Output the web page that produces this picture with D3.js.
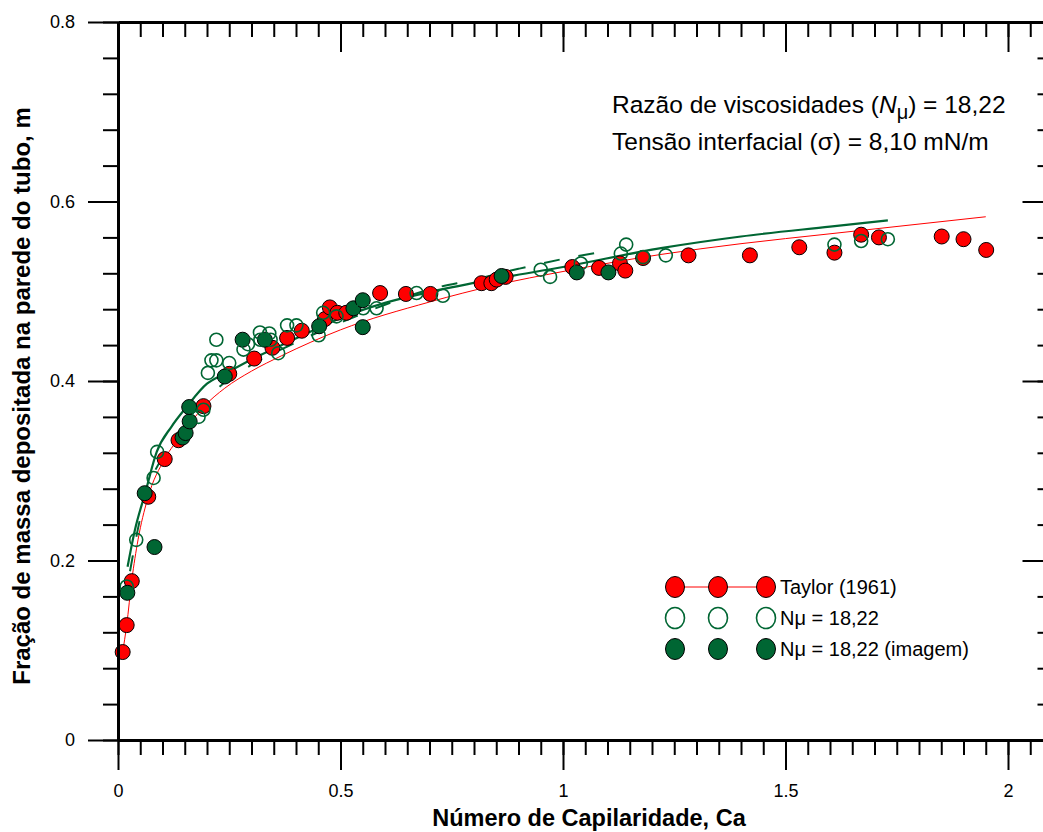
<!DOCTYPE html>
<html>
<head>
<meta charset="utf-8">
<script src="https://cdn.jsdelivr.net/npm/d3@7"></script>
<style>
  body { margin: 0; background: #fff; }
  svg { display: block; font-family: "Liberation Sans", Arial, sans-serif; }
</style>
</head>
<body>
<div id="chart"></div>
<script>
// Taylor (1961) data
const taylorCa = [0.0105, 0.0195, 0.031, 0.068, 0.105, 0.136, 0.192, 0.250, 0.306, 0.347, 0.380, 0.413, 0.465, 0.476, 0.493, 0.513, 0.589, 0.647, 0.702, 0.817, 0.839, 0.851, 0.871, 1.021, 1.081, 1.128, 1.140, 1.180, 1.282, 1.420, 1.531, 1.610, 1.670, 1.710, 1.851, 1.900, 1.951];
const taylorM  = [0.098, 0.128, 0.177, 0.271, 0.313, 0.334, 0.372, 0.408, 0.425, 0.437, 0.448, 0.456, 0.469, 0.482, 0.476, 0.476, 0.498, 0.497, 0.497, 0.509, 0.509, 0.513, 0.516, 0.527, 0.526, 0.531, 0.523, 0.537, 0.540, 0.540, 0.549, 0.543, 0.563, 0.560, 0.561, 0.558, 0.546];

// N_mu = 18,22 (open)
const openCa = [0.0195, 0.041, 0.080, 0.088, 0.181, 0.192, 0.202, 0.210, 0.221, 0.221, 0.250, 0.282, 0.292, 0.319, 0.320, 0.340, 0.343, 0.360, 0.380, 0.401, 0.451, 0.461, 0.491, 0.551, 0.581, 0.671, 0.730, 0.950, 0.971, 1.040, 1.130, 1.142, 1.180, 1.231, 1.610, 1.670, 1.730];
const openM  = [0.171, 0.223, 0.292, 0.321, 0.360, 0.368, 0.409, 0.423, 0.423, 0.446, 0.420, 0.435, 0.441, 0.454, 0.446, 0.453, 0.446, 0.431, 0.462, 0.462, 0.451, 0.476, 0.472, 0.481, 0.481, 0.498, 0.495, 0.524, 0.516, 0.531, 0.542, 0.552, 0.538, 0.540, 0.552, 0.556, 0.558];

// N_mu = 18,22 (imagem)
const imgCa = [0.021, 0.060, 0.082, 0.145, 0.152, 0.161, 0.160, 0.240, 0.280, 0.330, 0.452, 0.529, 0.550, 0.550, 0.862, 1.031, 1.102];
const imgM  = [0.164, 0.275, 0.215, 0.337, 0.342, 0.355, 0.371, 0.405, 0.446, 0.446, 0.461, 0.481, 0.490, 0.460, 0.517, 0.521, 0.521];

// fitted curves
const fitTaylorCa = [0.0105, 0.0195, 0.031, 0.045, 0.066, 0.106, 0.143, 0.192, 0.240, 0.300, 0.367, 0.500, 0.700, 0.850, 1.000, 1.220, 1.400, 1.600, 1.950];
const fitTaylorM  = [0.098, 0.128, 0.178, 0.223, 0.268, 0.314, 0.340, 0.371, 0.392, 0.411, 0.428, 0.457, 0.488, 0.507, 0.522, 0.541, 0.553, 0.564, 0.583];

const fitSolidCa = [0.0215, 0.038, 0.061, 0.087, 0.120, 0.154, 0.200, 0.240, 0.300, 0.364, 0.454, 0.500, 0.600, 0.700, 0.850, 1.000, 1.220, 1.400, 1.600, 1.730];
const fitSolidM  = [0.193, 0.234, 0.275, 0.321, 0.349, 0.371, 0.397, 0.408, 0.424, 0.439, 0.460, 0.470, 0.487, 0.499, 0.514, 0.527, 0.548, 0.561, 0.572, 0.579];

const fitDashCa = [0.027, 0.049, 0.075, 0.120, 0.170, 0.227, 0.290, 0.400, 0.500, 0.600, 0.700, 0.800, 0.900, 1.000, 1.100];
const fitDashM  = [0.188, 0.245, 0.290, 0.328, 0.362, 0.393, 0.415, 0.443, 0.465, 0.485, 0.502, 0.513, 0.525, 0.536, 0.545];

const xTicks = [0, 0.5, 1, 1.5, 2];
const yTicks = [0, 0.2, 0.4, 0.6, 0.8];

const legendLabels = ["Taylor (1961)", "N\u03bc = 18,22", "N\u03bc = 18,22 (imagem)"];

const width = 1043, height = 832;
const red = "#ff0000", green = "#006633";

const svg = d3.select("#chart").append("svg")
  .attr("width", width)
  .attr("height", height);

const x = d3.scaleLinear().domain([0, 2.1]).range([118, 118 + 2.1 * 445]);
const y = d3.scaleLinear().domain([0, 0.8]).range([740, 22]);

const zip = (a, b) => a.map((v, i) => [v, b[i]]);

// curves
const line = d3.line().x(d => x(d[0])).y(d => y(d[1])).curve(d3.curveMonotoneX);

svg.append("path")
  .attr("d", line(zip(fitTaylorCa, fitTaylorM)))
  .attr("fill", "none").attr("stroke", red).attr("stroke-width", 1);

svg.append("path")
  .attr("d", line(zip(fitDashCa, fitDashM)))
  .attr("fill", "none").attr("stroke", green).attr("stroke-width", 2)
  .attr("stroke-dasharray", "16,19");

svg.append("path")
  .attr("d", line(zip(fitSolidCa, fitSolidM)))
  .attr("fill", "none").attr("stroke", green).attr("stroke-width", 2.2);

// points
svg.append("g").selectAll("circle")
  .data(zip(taylorCa, taylorM))
  .join("circle")
  .attr("cx", d => x(d[0])).attr("cy", d => y(d[1]))
  .attr("r", 7.5)
  .attr("fill", red).attr("stroke", "#000").attr("stroke-width", 1);

svg.append("g").selectAll("circle")
  .data(zip(imgCa, imgM))
  .join("circle")
  .attr("cx", d => x(d[0])).attr("cy", d => y(d[1]))
  .attr("r", 7.5)
  .attr("fill", green).attr("stroke", "#000").attr("stroke-width", 1);

svg.append("g").selectAll("circle")
  .data(zip(openCa, openM))
  .join("circle")
  .attr("cx", d => x(d[0])).attr("cy", d => y(d[1]))
  .attr("r", 6.5)
  .attr("fill", "none").attr("stroke", green).attr("stroke-width", 1.6);

// axes
function styleAxis(g, labels) {
  g.select(".domain").attr("stroke", "#000").attr("stroke-width", 3);
  g.selectAll(".tick line").attr("stroke", "#000").attr("stroke-width", 2);
  if (!labels) g.selectAll(".tick text").remove();
}

const xMinor = d3.range(0, 42).map(i => i * 0.05);
const yMinor = d3.range(0, 21).map(i => i * 0.04);

// bottom
svg.append("g").attr("transform", `translate(0,${y(0)})`)
  .call(d3.axisBottom(x).tickValues(xMinor).tickSize(15).tickSizeOuter(0))
  .call(g => styleAxis(g, false));
svg.append("g").attr("transform", `translate(0,${y(0)})`)
  .call(d3.axisBottom(x).tickValues(xTicks).tickSize(30).tickSizeOuter(0).tickPadding(14).tickFormat(d3.format("")))
  .call(g => styleAxis(g, true))
  .selectAll("text")
  .attr("font-family", "'Liberation Sans', Arial, sans-serif")
  .attr("font-size", 18).attr("fill", "#000");

// top
svg.append("g").attr("transform", `translate(0,${y(0.8)})`)
  .call(d3.axisBottom(x).tickValues(xMinor).tickSize(15).tickSizeOuter(0))
  .call(g => styleAxis(g, false));
svg.append("g").attr("transform", `translate(0,${y(0.8)})`)
  .call(d3.axisBottom(x).tickValues(xTicks).tickSize(30).tickSizeOuter(0))
  .call(g => styleAxis(g, false));

// left
svg.append("g").attr("transform", `translate(${x(0)},0)`)
  .call(d3.axisLeft(y).tickValues(yMinor).tickSize(15).tickSizeOuter(0))
  .call(g => styleAxis(g, false));
svg.append("g").attr("transform", `translate(${x(0)},0)`)
  .call(d3.axisLeft(y).tickValues(yTicks).tickSize(30).tickSizeOuter(0).tickPadding(13).tickFormat(d3.format("")))
  .call(g => styleAxis(g, true))
  .selectAll("text")
  .attr("font-size", 18).attr("fill", "#000");

// right
svg.append("g").attr("transform", `translate(${x(2.1)},0)`)
  .call(d3.axisLeft(y).tickValues(yMinor).tickSize(15).tickSizeOuter(0))
  .call(g => styleAxis(g, false));
svg.append("g").attr("transform", `translate(${x(2.1)},0)`)
  .call(d3.axisLeft(y).tickValues(yTicks).tickSize(30).tickSizeOuter(0))
  .call(g => styleAxis(g, false));

// axis titles
svg.append("text")
  .attr("x", 589).attr("y", 826)
  .attr("text-anchor", "middle")
  .attr("font-weight", "bold").attr("font-size", 23.5)
  .text("Número de Capilaridade, Ca");

svg.append("text")
  .attr("transform", "translate(30,396) rotate(-90)")
  .attr("text-anchor", "middle")
  .attr("font-weight", "bold").attr("font-size", 24)
  .text("Fração de massa depositada na parede do tubo, m");

// annotation
const ann = svg.append("text").attr("x", 612).attr("y", 113).attr("font-size", 24.5);
ann.append("tspan").text("Razão de viscosidades (");
ann.append("tspan").attr("font-style", "italic").text("N");
ann.append("tspan").attr("dy", 6).attr("font-size", 20).text("\u03bc");
ann.append("tspan").attr("dy", -6).text(") = 18,22");

svg.append("text").attr("x", 612).attr("y", 150).attr("font-size", 24.5)
  .text("Tensão interfacial (\u03c3) = 8,10 mN/m");

// legend
const legX = [675, 718, 766];
const legY = [587, 618, 649];
const leg = svg.append("g");

leg.append("line")
  .attr("x1", legX[0]).attr("x2", legX[2])
  .attr("y1", legY[0]).attr("y2", legY[0])
  .attr("stroke", red).attr("stroke-width", 1);

const legStyles = [
  { fill: red, stroke: "#000", sw: 1 },
  { fill: "#fff", stroke: green, sw: 1.6 },
  { fill: green, stroke: "#000", sw: 1 }
];

legStyles.forEach((s, i) => {
  leg.append("g").selectAll("ellipse")
    .data(legX)
    .join("ellipse")
    .attr("cx", d => d).attr("cy", legY[i])
    .attr("rx", 9.5).attr("ry", 10.5)
    .attr("fill", s.fill).attr("stroke", s.stroke).attr("stroke-width", s.sw);
  leg.append("text")
    .attr("x", 780).attr("y", legY[i] + 7)
    .attr("font-size", 20)
    .text(legendLabels[i]);
});
</script>
</body>
</html>
